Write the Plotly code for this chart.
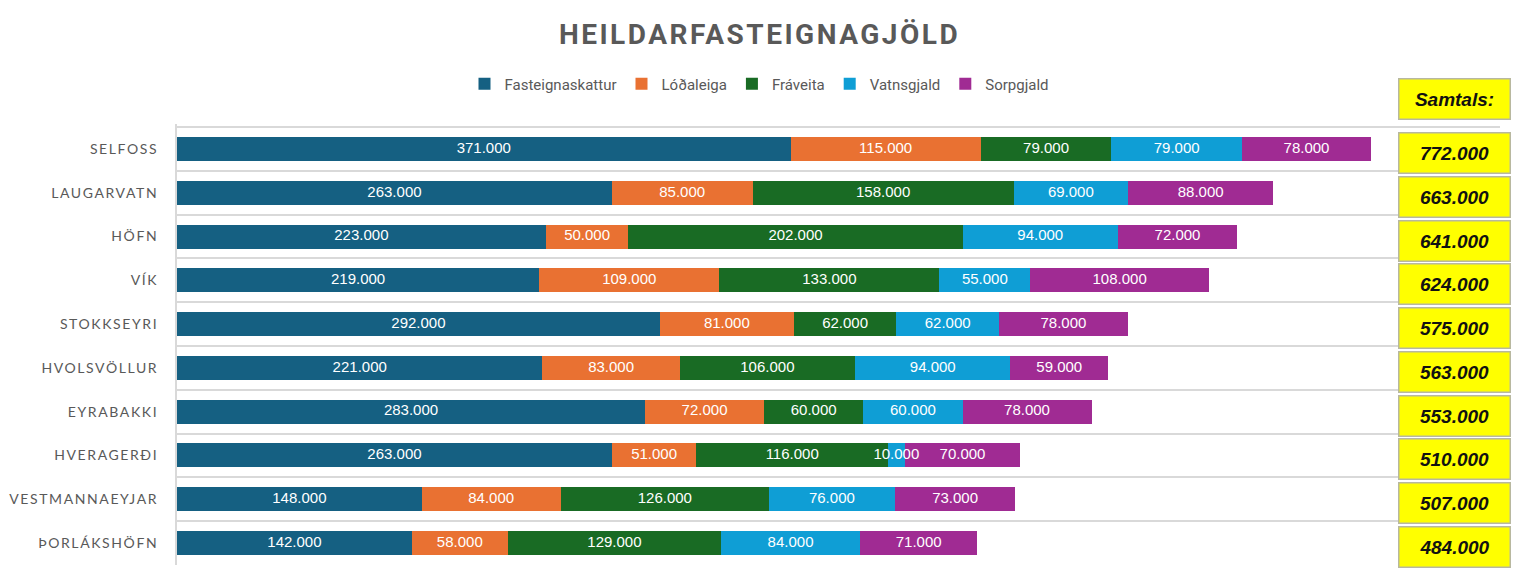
import plotly.graph_objects as go

W, H = 1519, 582

categories = ["SELFOSS", "LAUGARVATN", "HÖFN", "VÍK", "STOKKSEYRI", "HVOLSVÖLLUR",
              "EYRABAKKI", "HVERAGERÐI", "VESTMANNAEYJAR", "ÞORLÁKSHÖFN"]

fasteignaskattur = [371000, 263000, 223000, 219000, 292000, 221000, 283000, 263000, 148000, 142000]
lodaleiga = [115000, 85000, 50000, 109000, 81000, 83000, 72000, 51000, 84000, 58000]
fraveita = [79000, 158000, 202000, 133000, 62000, 106000, 60000, 116000, 126000, 129000]
vatnsgjald = [79000, 69000, 94000, 55000, 62000, 94000, 60000, 10000, 76000, 84000]
sorpgjald = [78000, 88000, 72000, 108000, 78000, 59000, 78000, 70000, 73000, 71000]

# totals as printed in the yellow boxes
totals = [772000, 663000, 641000, 624000, 575000, 563000, 553000, 510000, 507000, 484000]

series_names = ["Fasteignaskattur", "Lóðaleiga", "Fráveita", "Vatnsgjald", "Sorpgjald"]
series_values = [fasteignaskattur, lodaleiga, fraveita, vatnsgjald, sorpgjald]
series_colors = ["#156082", "#E97132", "#196B24", "#0F9ED5", "#A02B93"]


def fmt(v):
    return f"{v:,}".replace(",", ".")


fig = go.Figure()
for name, vals, col in zip(series_names, series_values, series_colors):
    fig.add_trace(go.Bar(
        y=categories, x=vals, name=name, orientation="h",
        marker=dict(color=col, line=dict(width=0)),
        hoverinfo="x+name",
    ))

# data labels drawn on top of all bars (centre of each stacked segment)
lab_x, lab_y, lab_t = [], [], []
base = [0] * len(categories)
for vals in series_values:
    for i, v in enumerate(vals):
        lab_x.append(base[i] + v / 2)
        lab_y.append(categories[i])
        lab_t.append(fmt(v))
        base[i] += v
fig.add_trace(go.Scatter(
    x=lab_x, y=lab_y, text=lab_t, mode="text", textposition="middle center",
    textfont=dict(family="Liberation Sans, Arial, sans-serif", size=15, color="white"),
    showlegend=False, hoverinfo="skip", cliponaxis=False,
))

annotations = []
box_common = dict(
    xref="paper", x=1454 / W, xanchor="center", yanchor="middle",
    showarrow=False, bgcolor="#FFFF00", bordercolor="#B8B8A0", borderwidth=1.5,
    borderpad=2, width=106, height=35, align="center",
    font=dict(family="Liberation Sans, Arial, sans-serif", size=19, color="#111111"),
)
annotations.append(dict(box_common, yref="paper", y=1 - 99 / H,
                        text="<b><i>Samtals:</i></b>"))
for cat, t in zip(categories, totals):
    annotations.append(dict(box_common, yref="y", y=cat, yshift=-4,
                            text=f"<b><i>{fmt(t)}</i></b>"))

fig.update_layout(
    width=W, height=H,
    barmode="stack", bargap=0.45,
    separators=",.",
    paper_bgcolor="white", plot_bgcolor="white",
    margin=dict(l=0, r=0, t=0, b=0),
    title=dict(text="<b>HEILDARFASTEIGNAGJÖLD</b>", x=0.5, xanchor="center",
               y=1 - 34 / H, yanchor="middle",
               font=dict(family="Roboto, sans-serif", size=28, color="#595959")),
    legend=dict(orientation="h", x=0.5, xanchor="center", y=1 - 84 / H, yanchor="middle",
                font=dict(family="Roboto, sans-serif", size=15, color="#595959"),
                traceorder="normal", itemwidth=30, bgcolor="rgba(0,0,0,0)"),
    xaxis=dict(domain=[177 / W, 1500 / W], range=[0, 800000], showgrid=False,
               showticklabels=False, zeroline=False, showline=False, fixedrange=True),
    yaxis=dict(domain=[1 - 565 / H, 1 - 124 / H], autorange="reversed",
               type="category", tickson="boundaries", showgrid=True,
               gridcolor="#D9D9D9", gridwidth=2, showline=True, linecolor="#D9D9D9",
               linewidth=2, mirror=False, ticks="", ticklabelstandoff=14,
               tickfont=dict(family="Lato, sans-serif", size=14, color="#595959")),
    annotations=annotations,
    showlegend=True,
)

post = """
document.body.style.margin = '0';
document.body.style.overflow = 'hidden';
var gd = document.getElementsByClassName('plotly-graph-div')[0];
function spacing() {
  gd.querySelectorAll('.ytick text').forEach(function(t){ t.style.letterSpacing = '1.6px'; });
  gd.querySelectorAll('.gtitle').forEach(function(t){ t.style.letterSpacing = '2.5px'; });
}
spacing();
gd.on('plotly_afterplot', spacing);
"""

fig.write_html("out.html", post_script=post, config={"displayModeBar": False})
